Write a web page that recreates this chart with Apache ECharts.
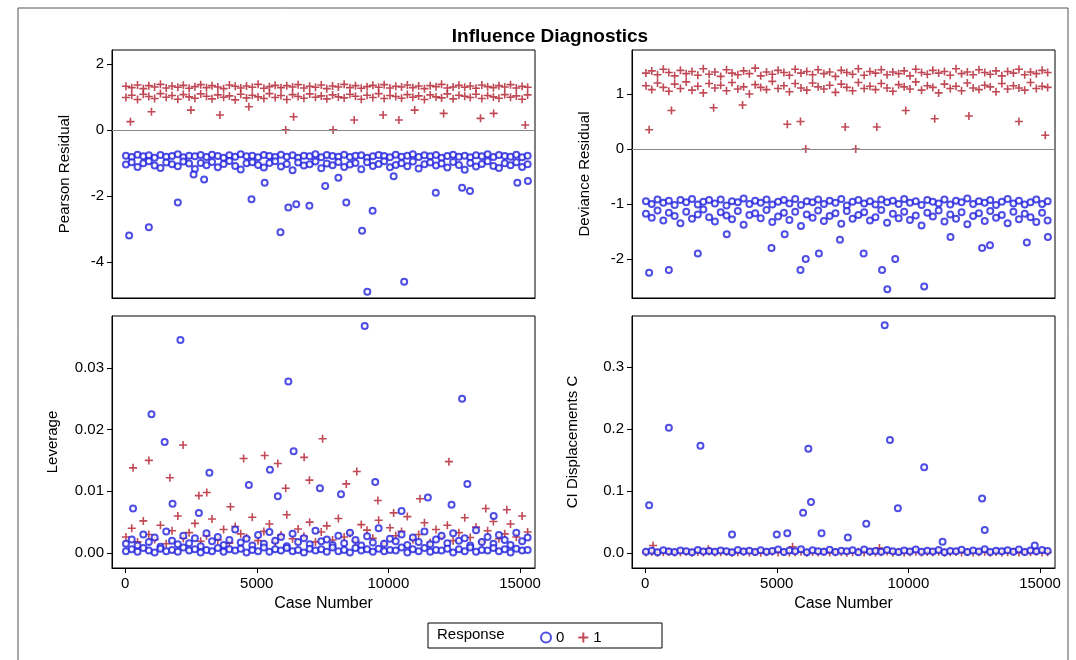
<!DOCTYPE html><html><head><meta charset="utf-8"><script src="https://cdn.jsdelivr.net/npm/echarts@6/dist/echarts.min.js"></script></head><body style="margin:0;background:#fff"><div id="c" style="width:1076px;height:660px"></div><script>
const caseX=[30,250,470,690,900,1120,1340,1560,1780,2000,2210,2430,2650,2870,3090,3300,3520,3740,3960,4180,4390,4610,4830,5050,5270,5480,5700,5920,6140,6360,6570,6790,7010,7230,7450,7660,7880,8100,8320,8540,8750,8970,9190,9410,9630,9840,10060,10280,10500,10720,10930,11150,11370,11590,11810,12020,12240,12460,12680,12900,13110,13330,13550,13770,13990,14200,14420,14640,14860,15080,15290];
const pearsonRedHi=[1.32,1.28,1.36,1.25,1.34,1.30,1.38,1.27,1.33,1.29,1.35,1.26,1.31,1.37,1.28,1.34,1.30,1.25,1.36,1.32,1.27,1.33,1.29,1.38,1.26,1.31,1.35,1.28,1.34,1.30,1.37,1.27,1.32,1.29,1.36,1.25,1.33,1.30,1.38,1.28,1.34,1.26,1.31,1.35,1.29,1.37,1.27,1.32,1.30,1.36,1.28,1.33,1.25,1.34,1.31,1.38,1.27,1.30,1.35,1.29,1.33,1.26,1.36,1.31,1.28,1.34,1.30,1.37,1.27,1.32,1.29];
const pearsonRedLo=[0.98,1.05,0.92,1.08,1.01,0.95,1.10,0.99,1.04,0.93,1.07,1.00,0.96,1.09,1.02,0.94,1.06,0.99,1.03,0.91,1.08,0.97,1.05,1.00,0.95,1.10,0.98,1.04,0.92,1.07,1.01,0.96,1.09,0.99,1.03,0.94,1.06,1.00,0.97,1.08,1.02,0.93,1.05,0.98,1.10,0.95,1.04,1.01,0.96,1.07,0.99,1.03,0.92,1.06,1.00,0.97,1.09,0.94,1.05,1.02,0.98,1.08,0.95,1.04,1.00,0.96,1.07,0.99,1.03,0.93,1.06];
const pearsonBlueHi=[-0.78,-0.82,-0.75,-0.80,-0.77,-0.84,-0.76,-0.81,-0.79,-0.74,-0.83,-0.78,-0.80,-0.76,-0.82,-0.75,-0.79,-0.84,-0.77,-0.81,-0.74,-0.80,-0.78,-0.83,-0.76,-0.79,-0.82,-0.75,-0.81,-0.77,-0.84,-0.78,-0.80,-0.74,-0.83,-0.76,-0.79,-0.81,-0.75,-0.82,-0.78,-0.77,-0.84,-0.80,-0.76,-0.79,-0.83,-0.75,-0.81,-0.78,-0.74,-0.82,-0.77,-0.80,-0.76,-0.84,-0.79,-0.75,-0.81,-0.78,-0.83,-0.77,-0.80,-0.74,-0.82,-0.76,-0.79,-0.81,-0.75,-0.83,-0.78];
const pearsonBlueLo=[-1.05,-0.98,-1.12,-1.01,-0.95,-1.08,-1.15,-0.99,-1.04,-1.10,-0.96,-1.02,-1.18,-1.00,-1.07,-0.97,-1.13,-1.03,-0.94,-1.09,-1.20,-1.01,-0.98,-1.06,-1.14,-1.00,-0.95,-1.11,-1.03,-1.22,-0.99,-1.08,-1.04,-0.96,-1.16,-1.02,-1.07,-0.97,-1.12,-1.05,-1.00,-1.19,-0.98,-1.09,-1.03,-0.95,-1.13,-1.06,-1.01,-1.10,-0.96,-1.17,-1.04,-0.99,-1.08,-1.02,-1.14,-0.97,-1.06,-1.21,-1.00,-1.11,-1.03,-0.95,-1.09,-1.15,-1.01,-1.07,-0.98,-1.12,-1.04];
const devRedHi=[1.38,1.42,1.35,1.45,1.39,1.33,1.43,1.37,1.41,1.34,1.46,1.36,1.40,1.32,1.44,1.38,1.35,1.42,1.37,1.47,1.33,1.40,1.36,1.43,1.39,1.34,1.45,1.38,1.41,1.35,1.44,1.37,1.40,1.32,1.43,1.39,1.36,1.46,1.34,1.41,1.38,1.44,1.35,1.40,1.37,1.42,1.33,1.45,1.39,1.36,1.43,1.38,1.41,1.34,1.46,1.37,1.40,1.35,1.44,1.39,1.36,1.42,1.33,1.41,1.38,1.45,1.35,1.40,1.37,1.43,1.39];
const devRedLo=[1.15,1.08,1.20,1.12,1.05,1.18,1.10,1.22,1.07,1.14,1.02,1.19,1.11,1.16,1.06,1.21,1.09,1.13,1.00,1.17,1.12,1.08,1.23,1.10,1.15,1.04,1.19,1.11,1.07,1.20,1.13,1.09,1.16,1.03,1.18,1.12,1.06,1.21,1.10,1.14,1.08,1.19,1.11,1.05,1.17,1.13,1.09,1.22,1.07,1.15,1.12,1.02,1.18,1.10,1.14,1.06,1.20,1.11,1.08,1.16,1.13,1.04,1.19,1.09,1.15,1.11,1.07,1.21,1.10,1.14,1.12];
const devBlueHi=[-0.95,-1.00,-0.92,-0.98,-0.94,-1.02,-0.93,-0.97,-0.91,-1.01,-0.96,-0.93,-0.99,-0.92,-1.03,-0.95,-0.97,-0.90,-1.00,-0.94,-0.98,-0.92,-1.01,-0.96,-0.93,-0.99,-0.91,-1.02,-0.95,-0.97,-0.92,-1.00,-0.94,-0.98,-0.91,-1.03,-0.96,-0.93,-0.99,-0.95,-1.01,-0.92,-0.97,-0.94,-1.00,-0.91,-0.98,-0.95,-1.02,-0.93,-0.96,-0.99,-0.92,-1.01,-0.94,-0.97,-0.90,-1.00,-0.95,-0.98,-0.93,-1.02,-0.96,-0.91,-0.99,-0.94,-1.01,-0.97,-0.92,-1.00,-0.95];
const devBlueLo=[-1.18,-1.25,-1.12,-1.30,-1.16,-1.22,-1.35,-1.14,-1.27,-1.19,-1.10,-1.24,-1.32,-1.15,-1.21,-1.28,-1.13,-1.38,-1.20,-1.17,-1.26,-1.11,-1.33,-1.23,-1.16,-1.29,-1.14,-1.40,-1.19,-1.25,-1.12,-1.31,-1.22,-1.17,-1.36,-1.13,-1.27,-1.20,-1.15,-1.30,-1.24,-1.11,-1.34,-1.18,-1.26,-1.14,-1.29,-1.21,-1.39,-1.16,-1.23,-1.12,-1.32,-1.19,-1.27,-1.15,-1.37,-1.22,-1.17,-1.31,-1.13,-1.25,-1.20,-1.35,-1.14,-1.28,-1.18,-1.24,-1.33,-1.16,-1.30];
const levBlueHi=[0.0015,0.0022,0.0012,0.0030,0.0018,0.0025,0.0010,0.0035,0.0020,0.0014,0.0028,0.0016,0.0024,0.0011,0.0032,0.0019,0.0026,0.0013,0.0021,0.0038,0.0017,0.0023,0.0012,0.0029,0.0015,0.0034,0.0020,0.0026,0.0011,0.0031,0.0018,0.0024,0.0014,0.0036,0.0019,0.0022,0.0013,0.0028,0.0016,0.0033,0.0021,0.0012,0.0027,0.0017,0.0040,0.0015,0.0023,0.0019,0.0030,0.0013,0.0025,0.0018,0.0035,0.0014,0.0022,0.0028,0.0016,0.0032,0.0020,0.0024,0.0012,0.0037,0.0018,0.0026,0.0015,0.0029,0.0021,0.0013,0.0033,0.0019,0.0025];
const levBlueLo=[0.0003,0.0006,0.0002,0.0008,0.0004,0.0001,0.0007,0.0003,0.0005,0.0002,0.0009,0.0004,0.0006,0.0001,0.0005,0.0003,0.0008,0.0002,0.0006,0.0004,0.0007,0.0001,0.0005,0.0003,0.0009,0.0002,0.0006,0.0004,0.0008,0.0003,0.0005,0.0001,0.0007,0.0004,0.0006,0.0002,0.0009,0.0003,0.0005,0.0001,0.0008,0.0004,0.0006,0.0002,0.0007,0.0003,0.0005,0.0004,0.0009,0.0001,0.0006,0.0003,0.0008,0.0002,0.0005,0.0004,0.0007,0.0001,0.0006,0.0003,0.0009,0.0002,0.0005,0.0004,0.0008,0.0003,0.0006,0.0001,0.0007,0.0004,0.0005];
const levRedRow=[0.0026,0.0040,0.0018,0.0052,0.0030,0.0022,0.0045,0.0015,0.0036,0.0060,0.0024,0.0033,0.0048,0.0019,0.0028,0.0055,0.0021,0.0038,0.0016,0.0043,0.0031,0.0025,0.0058,0.0020,0.0035,0.0047,0.0017,0.0029,0.0062,0.0023,0.0039,0.0027,0.0050,0.0018,0.0034,0.0044,0.0021,0.0056,0.0026,0.0032,0.0019,0.0046,0.0037,0.0024,0.0053,0.0015,0.0041,0.0028,0.0035,0.0059,0.0022,0.0030,0.0049,0.0017,0.0038,0.0027,0.0045,0.0020,0.0033,0.0057,0.0025,0.0042,0.0018,0.0036,0.0051,0.0023,0.0031,0.0047,0.0026,0.0060,0.0034];
const cookBlueRow=[0.0020,0.0035,0.0010,0.0045,0.0025,0.0015,0.0040,0.0030,0.0012,0.0050,0.0022,0.0033,0.0018,0.0042,0.0028,0.0010,0.0048,0.0024,0.0036,0.0014,0.0044,0.0020,0.0031,0.0055,0.0017,0.0039,0.0026,0.0060,0.0013,0.0046,0.0029,0.0021,0.0052,0.0016,0.0037,0.0027,0.0043,0.0011,0.0058,0.0023,0.0034,0.0019,0.0049,0.0030,0.0015,0.0041,0.0025,0.0056,0.0018,0.0038,0.0022,0.0047,0.0012,0.0033,0.0027,0.0053,0.0016,0.0040,0.0024,0.0061,0.0014,0.0035,0.0029,0.0045,0.0020,0.0057,0.0017,0.0039,0.0026,0.0050,0.0032];
const cookRedRow=[0.0008,0.0015,0.0005,0.0012,0.0020,0.0007,0.0011,0.0018,0.0004,0.0014,0.0009,0.0022,0.0006,0.0013,0.0017,0.0005,0.0010,0.0019,0.0008,0.0015,0.0004,0.0012,0.0021,0.0007,0.0016,0.0009,0.0011,0.0018,0.0005,0.0014,0.0008,0.0020,0.0006,0.0013,0.0017,0.0004,0.0010,0.0019,0.0007,0.0015,0.0009,0.0012,0.0022,0.0005,0.0016,0.0008,0.0011,0.0018,0.0006,0.0014,0.0010,0.0020,0.0004,0.0013,0.0017,0.0007,0.0015,0.0009,0.0012,0.0019,0.0005,0.0016,0.0008,0.0011,0.0021,0.0006,0.0014,0.0010,0.0018,0.0007,0.0013];
const pearsonRedOut=[[200,0.25],[1000,0.55],[2500,0.6],[3600,0.45],[6100,0.0],[6400,0.4],[7900,0.0],[8700,0.3],[9800,0.45],[11000,0.6],[12100,0.5],[13500,0.35],[15200,0.15],[4700,0.7],[10400,0.3],[14000,0.5]];
const pearsonBlueOut=[[150,-3.2],[900,-2.95],[2000,-2.2],[5900,-3.1],[6200,-2.35],[6500,-2.25],[7000,-2.3],[8400,-2.2],[9000,-3.05],[9400,-2.45],[9200,-4.9],[10600,-4.6],[4800,-2.1],[11800,-1.9],[13100,-1.85],[12800,-1.75],[3000,-1.5],[7600,-1.7],[14900,-1.6],[15300,-1.55],[5300,-1.6],[2600,-1.35],[8100,-1.45],[10200,-1.4]];
const devRedOut=[[150,0.35],[1000,0.7],[6100,0.0],[8000,0.0],[5400,0.45],[5900,0.5],[7600,0.4],[8800,0.4],[11000,0.55],[14200,0.5],[15200,0.25],[2600,0.75],[12300,0.6],[3700,0.8],[9900,0.7]];
const devBlueOut=[[150,-2.25],[900,-2.2],[2000,-1.9],[5900,-2.2],[6100,-2.0],[6600,-1.9],[9000,-2.2],[9200,-2.55],[10600,-2.5],[9500,-2.0],[8300,-1.9],[4800,-1.8],[12800,-1.8],[13100,-1.75],[15300,-1.6],[14500,-1.7],[3100,-1.55],[7400,-1.65],[11600,-1.6],[5300,-1.55]];
const levBlueOut=[[1000,0.0225],[2100,0.0345],[6200,0.0278],[9100,0.0368],[12800,0.025],[1500,0.018],[6400,0.0165],[300,0.0072],[3200,0.013],[5500,0.0135],[4700,0.011],[7400,0.0105],[9500,0.0115],[11500,0.009],[13000,0.0112],[8200,0.0095],[2800,0.0065],[10500,0.0068],[14000,0.006],[1800,0.008],[5800,0.0092],[12400,0.0078]];
const levRedOut=[[300,0.0138],[900,0.015],[1700,0.0122],[2800,0.0093],[3100,0.0098],[4500,0.0153],[5300,0.0158],[5800,0.0145],[6800,0.0155],[7500,0.0185],[8800,0.0132],[12300,0.0148],[7000,0.0118],[9600,0.0085],[11200,0.0088],[13700,0.0072],[14500,0.007],[2200,0.0175],[4000,0.0075],[10200,0.0065],[6100,0.0105],[8400,0.0112]];
const cookBlueOut=[[150,0.077],[900,0.202],[2100,0.173],[6200,0.168],[9100,0.367],[9300,0.182],[10600,0.138],[12800,0.088],[12900,0.037],[6300,0.082],[6000,0.065],[5000,0.03],[8400,0.047],[7700,0.025],[9600,0.072],[3300,0.03],[5400,0.032],[6700,0.032],[11300,0.018],[14800,0.012]];
const cookRedOut=[[300,0.012],[5600,0.01],[8900,0.008],[2400,0.006]];
const xTicks=[0,5000,10000,15000];

const zip=a=>caseX.map((x,i)=>[x,a[i]]);
const blue='#2222dd', red='#b01c2c';
const plus='path://M4.8,0H7.2V4.8H12V7.2H7.2V12H4.8V7.2H0V4.8H4.8Z';
const grids=[{left:112,top:50,width:423,height:248},{left:632,top:50,width:423,height:248},{left:112,top:316,width:423,height:252},{left:632,top:316,width:423,height:252}];
const yDefs=[{min:-5.09,max:2.42,ticks:[-4,-2,0,2],name:'Pearson Residual',fmt:v=>String(v)},
 {min:-2.71,max:1.8,ticks:[-2,-1,0,1],name:'Deviance Residual',fmt:v=>String(v)},
 {min:-0.00243,max:0.0384,ticks:[0,0.01,0.02,0.03],name:'Leverage',fmt:v=>v.toFixed(2)},
 {min:-0.0242,max:0.382,ticks:[0,0.1,0.2,0.3],name:'CI Displacements C',fmt:v=>v.toFixed(1)}];
const font='Liberation Sans';
const xAxis=grids.map((g,i)=>({type:'value',gridIndex:i,min:-500,max:15570,position:'bottom',axisLine:{show:true,onZero:false,lineStyle:{color:'#000'}},splitLine:{show:false},
 axisTick:{show:i>=2,length:5,customValues:xTicks,lineStyle:{color:'#000'}},
 axisLabel:{show:i>=2,customValues:xTicks,formatter:v=>String(v),color:'#000',fontSize:15,fontFamily:font},
 name:i>=2?'Case Number':'',nameLocation:'middle',nameGap:28,nameTextStyle:{color:'#000',fontSize:16,fontFamily:font}}));
const yAxis=yDefs.map((d,i)=>({type:'value',gridIndex:i,min:d.min,max:d.max,position:'left',axisLine:{show:true,onZero:false,lineStyle:{color:'#000'}},splitLine:{show:false},
 axisTick:{show:true,length:5,customValues:d.ticks,lineStyle:{color:'#000'}},
 axisLabel:{customValues:d.ticks,formatter:d.fmt,color:'#000',fontSize:15,fontFamily:font},
 name:d.name,nameLocation:'middle',nameGap:i>=2?52:40,nameRotate:90,nameTextStyle:{color:'#000',fontSize:15,fontFamily:font}}));
function s(name,i,data,isRed){return {name,type:'scatter',xAxisIndex:i,yAxisIndex:i,data,symbol:isRed?plus:'emptyCircle',symbolSize:isRed?8:6,
 itemStyle:isRed?{color:red}:{color:blue,borderWidth:1},silent:true,animation:false};}
const zl={type:'line',data:[],markLine:{silent:true,symbol:'none',label:{show:false},lineStyle:{color:'#888',type:'solid',width:1},data:[{yAxis:0}]}};
const series=[
 s('0',0,zip(pearsonBlueHi).concat(zip(pearsonBlueLo),pearsonBlueOut),false),
 s('1',0,zip(pearsonRedHi).concat(zip(pearsonRedLo),pearsonRedOut),true),
 Object.assign({},zl,{xAxisIndex:0,yAxisIndex:0}),
 s('0',1,zip(devBlueHi).concat(zip(devBlueLo),devBlueOut),false),
 s('1',1,zip(devRedHi).concat(zip(devRedLo),devRedOut),true),
 Object.assign({},zl,{xAxisIndex:1,yAxisIndex:1}),
 s('1',2,zip(levRedRow).concat(levRedOut),true),
 s('0',2,zip(levBlueHi).concat(zip(levBlueLo),levBlueOut),false),
 s('1',3,zip(cookRedRow).concat(cookRedOut),true),
 s('0',3,zip(cookBlueRow).concat(cookBlueOut),false)];
const ch=echarts.init(document.getElementById('c'),null,{renderer:'canvas'});
ch.setOption({animation:false,backgroundColor:'#fff',
 title:{text:'Influence Diagnostics',left:545,textAlign:'center',top:22,textStyle:{fontFamily:font,fontWeight:'bold',fontSize:19,color:'#000'}},
 grid:grids.map(g=>Object.assign({show:true,borderColor:'#000',borderWidth:1,backgroundColor:'transparent'},g)),
 xAxis,yAxis,series,
 legend:{data:[{name:'0',icon:'emptyCircle',itemStyle:{color:blue}},{name:'1',icon:plus,itemStyle:{color:red}}],
  left:535,top:625,itemWidth:10,itemHeight:10,itemGap:14,textStyle:{fontFamily:font,fontSize:15,color:'#000'},selectedMode:false},
 graphic:[{type:'rect',shape:{x:18,y:8,width:1050,height:680},style:{fill:'none',stroke:'#555',lineWidth:1}},
  {type:'rect',shape:{x:428,y:623,width:234,height:25},style:{fill:'none',stroke:'#000',lineWidth:1}},
  {type:'text',x:437,y:627,style:{text:'Response',fontFamily:font,fontSize:15,fill:'#000'}}]});
</script></body></html>
